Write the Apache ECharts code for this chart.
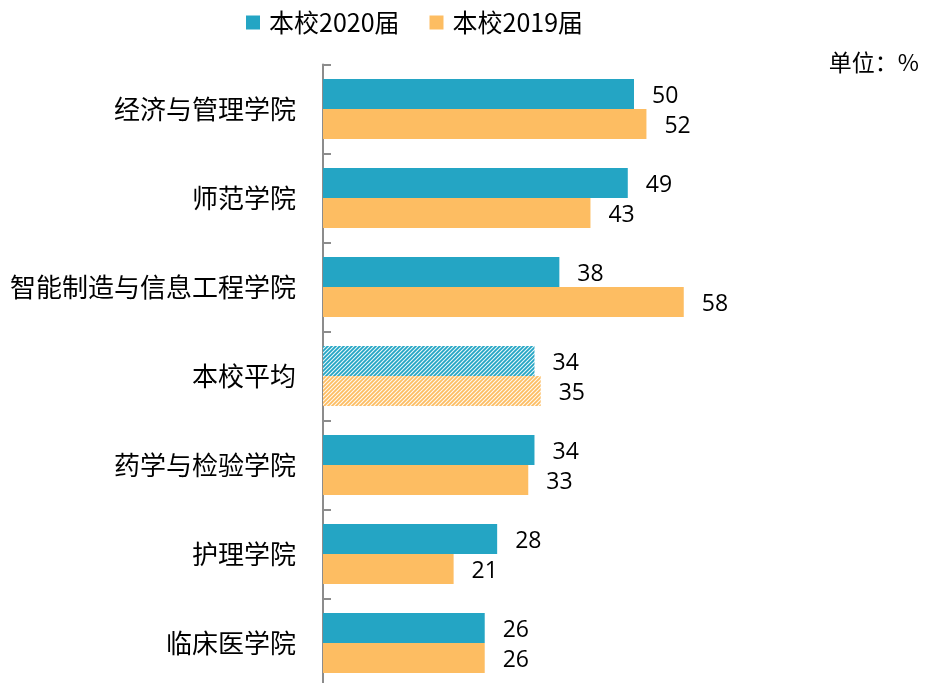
<!DOCTYPE html>
<html>
<head>
<meta charset="utf-8">
<script src="https://cdn.jsdelivr.net/npm/echarts@6/dist/echarts.min.js"></script>
<style>
  html, body { margin: 0; padding: 0; background: #fff; }
  #chart { width: 925px; height: 683px; }
</style>
</head>
<body>
<div id="chart"></div>
<script>
// College names, top to bottom
var categories = ['经济与管理学院', '师范学院', '智能制造与信息工程学院', '本校平均', '药学与检验学院', '护理学院', '临床医学院'];
var seriesNames = ['本校2020届', '本校2019届'];
var values2020 = [50, 49, 38, 34, 34, 28, 26];
var values2019 = [52, 43, 58, 35, 33, 21, 26];
var averageLabel = '本校平均';
var unitText = '单位：%';

var TEAL = '#24A5C4';
var ORANGE = '#FDBD62';

// Diagonal-stripe fill used for the school average bars
function stripePattern(base) {
  var size = 4;
  var c = document.createElement('canvas');
  c.width = size; c.height = size;
  var ctx = c.getContext('2d');
  ctx.fillStyle = base;
  ctx.fillRect(0, 0, size, size);
  ctx.strokeStyle = 'rgba(255,255,255,0.9)';
  ctx.lineWidth = 1.1;
  ctx.beginPath();
  ctx.moveTo(0, size); ctx.lineTo(size, 0);
  ctx.moveTo(-1, 1); ctx.lineTo(1, -1);
  ctx.moveTo(size - 1, size + 1); ctx.lineTo(size + 1, size - 1);
  ctx.stroke();
  return { image: c, repeat: 'repeat' };
}

function buildData(values, base) {
  return values.map(function (v, i) {
    if (categories[i] === averageLabel) {
      return { value: v, itemStyle: { color: stripePattern(base) } };
    }
    return v;
  });
}

var chart = echarts.init(document.getElementById('chart'), null, { renderer: 'canvas' });

var labelStyle = {
  show: true,
  position: 'right',
  distance: 18,
  offset: [0, 2],
  color: '#000',
  fontFamily: 'Open Sans',
  fontSize: 23
};

chart.setOption({
  animation: false,
  backgroundColor: '#fff',
  legend: {
    left: 241,
    top: 5,
    itemWidth: 14,
    itemHeight: 14,
    itemGap: 30,
    icon: 'rect',
    textStyle: { fontFamily: 'Noto Sans CJK SC', fontSize: 25, color: '#000', padding: [0, 0, 0, 4] },
    data: seriesNames
  },
  graphic: [{
    type: 'text',
    right: 6,
    top: 51,
    style: { text: unitText, fontFamily: 'Noto Sans CJK SC', fontSize: 23, fill: '#000' }
  }],
  grid: {
    left: 323,
    top: 64.5,
    width: 497.6,
    height: 623,
    outerBoundsMode: 'none'
  },
  xAxis: {
    type: 'value',
    min: 0,
    max: 80,
    show: false
  },
  yAxis: {
    type: 'category',
    inverse: true,
    data: categories,
    axisLine: { show: true, lineStyle: { color: '#8c8c8c', width: 2 } },
    axisTick: { show: true, inside: true, length: 8, lineStyle: { color: '#8c8c8c', width: 2 } },
    axisLabel: { margin: 27, color: '#000', fontFamily: 'Noto Sans CJK SC', fontSize: 26 }
  },
  series: [
    {
      name: seriesNames[0],
      type: 'bar',
      barWidth: 30,
      barGap: '0%',
      itemStyle: { color: TEAL },
      label: labelStyle,
      data: buildData(values2020, TEAL)
    },
    {
      name: seriesNames[1],
      type: 'bar',
      barWidth: 30,
      barGap: '0%',
      itemStyle: { color: ORANGE },
      label: labelStyle,
      data: buildData(values2019, ORANGE)
    }
  ]
});
</script>
</body>
</html>
